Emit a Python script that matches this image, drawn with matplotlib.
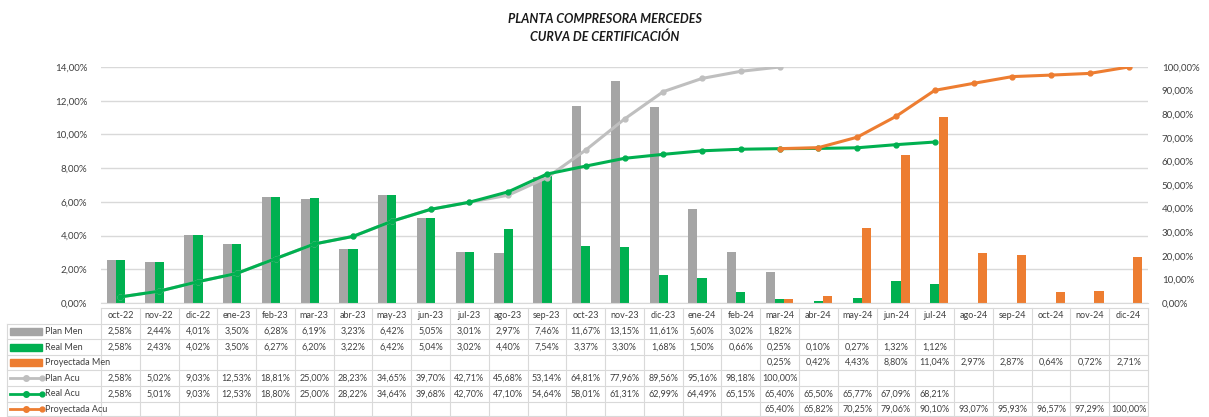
import numpy as np
import matplotlib.pyplot as plt
from matplotlib.lines import Line2D
from matplotlib.patches import Rectangle

plt.rcParams['font.family'] = ['Lato', 'DejaVu Sans']

# Datos de la curva de certificación (en %)
meses = ["oct-22", "nov-22", "dic-22", "ene-23", "feb-23", "mar-23", "abr-23",
         "may-23", "jun-23", "jul-23", "ago-23", "sep-23", "oct-23", "nov-23",
         "dic-23", "ene-24", "feb-24", "mar-24", "abr-24", "may-24", "jun-24",
         "jul-24", "ago-24", "sep-24", "oct-24", "nov-24", "dic-24"]

plan_men = [2.58, 2.44, 4.01, 3.50, 6.28, 6.19, 3.23, 6.42, 5.05, 3.01, 2.97,
            7.46, 11.67, 13.15, 11.61, 5.60, 3.02, 1.82]
real_men = [2.58, 2.43, 4.02, 3.50, 6.27, 6.20, 3.22, 6.42, 5.04, 3.02, 4.40,
            7.54, 3.37, 3.30, 1.68, 1.50, 0.66, 0.25, 0.10, 0.27, 1.32, 1.12]
proy_men = [0.25, 0.42, 4.43, 8.80, 11.04, 2.97, 2.87, 0.64, 0.72, 2.71]
proy_inicio = 17  # mar-24

plan_acu = [2.58, 5.02, 9.03, 12.53, 18.81, 25.00, 28.23, 34.65, 39.70, 42.71,
            45.68, 53.14, 64.81, 77.96, 89.56, 95.16, 98.18, 100.00]
real_acu = [2.58, 5.01, 9.03, 12.53, 18.80, 25.00, 28.22, 34.64, 39.68, 42.70,
            47.10, 54.64, 58.01, 61.31, 62.99, 64.49, 65.15, 65.40, 65.50, 65.77,
            67.09, 68.21]
proy_acu = [65.40, 65.82, 70.25, 79.06, 90.10, 93.07, 95.93, 96.57, 97.29, 100.00]

GRIS = "#A5A5A5"
GRIS_L = "#BFBFBF"
VERDE = "#00B050"
NARANJA = "#ED7D31"
TXT = "#404040"
REJILLA = "#D9D9D9"


def fmt(v):
    return f"{v:.2f}%".replace(".", ",")


fig = plt.figure(figsize=(12.09, 4.17), dpi=100)
ax = fig.add_axes([101 / 1209, 1 - 303 / 417, 1047 / 1209, 236 / 417])
ax2 = ax.twinx()

n = len(meses)
x = np.arange(n)
w = 0.235
xp = np.arange(proy_inicio, proy_inicio + len(proy_men))

ax.bar(x[:len(plan_men)] - w, plan_men, w, color=GRIS, zorder=2)
ax.bar(x[:len(real_men)], real_men, w, color=VERDE, zorder=2)
ax.bar(xp + w, proy_men, w, color=NARANJA, zorder=2)

ax2.plot(x[:len(plan_acu)], plan_acu, color=GRIS_L, lw=2.2, marker="o", ms=3.5, zorder=3)
ax2.plot(x[:len(real_acu)], real_acu, color=VERDE, lw=2.2, marker="o", ms=3.5, zorder=3)
ax2.plot(xp, proy_acu, color=NARANJA, lw=2.2, marker="o", ms=3.5, zorder=3)

ax.set_xlim(-0.5, n - 0.5)
ax.set_ylim(0, 14)
ax2.set_ylim(0, 100)
ax.set_yticks(np.arange(0, 15, 2))
ax2.set_yticks(np.arange(0, 101, 10))
ax.set_yticklabels([fmt(v) for v in np.arange(0, 15, 2)])
ax2.set_yticklabels([fmt(v) for v in np.arange(0, 101, 10)])
ax.set_xticks([])
ax.yaxis.grid(True, color=REJILLA, lw=1, zorder=0)
ax.set_axisbelow(True)
for a in (ax, ax2):
    for s in a.spines.values():
        s.set_visible(False)
    a.tick_params(axis="y", length=0, labelsize=7, labelcolor=TXT, pad=10)
ax.spines["bottom"].set_visible(True)
ax.spines["bottom"].set_color(REJILLA)

fig.text(0.5, 0.955, "PLANTA COMPRESORA MERCEDES", ha="center", va="center",
         fontsize=9, fontweight="bold", fontstyle="italic", color="#1a1a1a")
fig.text(0.5, 0.912, "CURVA DE CERTIFICACIÓN", ha="center", va="center",
         fontsize=9, fontweight="bold", fontstyle="italic", color="#1a1a1a")

# Tabla de datos bajo el gráfico (en píxeles de la figura)
W, H = 1209, 417
x0_px, xa_px, col_w = 7, 101, 1047 / n
top_px, row_h = 308, 15.6
filas = [
    ("Plan Men", plan_men, 0, "bar", GRIS),
    ("Real Men", real_men, 0, "bar", VERDE),
    ("Proyectada Men", proy_men, proy_inicio, "bar", NARANJA),
    ("Plan Acu", plan_acu, 0, "line", GRIS_L),
    ("Real Acu", real_acu, 0, "line", VERDE),
    ("Proyectada Acu", proy_acu, proy_inicio, "line", NARANJA),
]


def fx(px):
    return px / W


def fy(py):
    return 1 - py / H


lw_t = 0.8
# cabecera
fig.add_artist(Line2D([fx(xa_px), fx(xa_px + n * col_w)], [fy(top_px)] * 2,
                      color=REJILLA, lw=lw_t))
for j, m in enumerate(meses):
    fig.text(fx(xa_px + (j + 0.5) * col_w), fy(top_px + row_h / 2), m,
             ha="center", va="center", fontsize=6.5, color=TXT)
for i, (nombre, vals, ini, tipo, col) in enumerate(filas):
    yc = top_px + (i + 1.5) * row_h
    ytop = top_px + (i + 1) * row_h
    fig.add_artist(Line2D([fx(x0_px), fx(xa_px + n * col_w)], [fy(ytop)] * 2,
                          color=REJILLA, lw=lw_t))
    if tipo == "bar":
        fig.add_artist(Rectangle((fx(10), fy(yc + 3.5)), fx(32), 7 / H,
                                 color=col, transform=fig.transFigure))
    else:
        fig.add_artist(Line2D([fx(10), fx(42)], [fy(yc)] * 2, color=col, lw=2,
                              marker="o", ms=3.5, markevery=[1],
                              transform=fig.transFigure))
        fig.add_artist(Line2D([fx(26)], [fy(yc)], color=col, marker="o", ms=4,
                              transform=fig.transFigure))
    fig.text(fx(45), fy(yc), nombre, ha="left", va="center", fontsize=6.5, color=TXT)
    for k, v in enumerate(vals):
        j = ini + k
        fig.text(fx(xa_px + (j + 0.5) * col_w), fy(yc), fmt(v),
                 ha="center", va="center", fontsize=6.5, color=TXT)
fig.add_artist(Line2D([fx(x0_px), fx(xa_px + n * col_w)], [fy(H - 1)] * 2,
                      color=REJILLA, lw=lw_t))
for j in range(n + 1):
    fig.add_artist(Line2D([fx(xa_px + j * col_w)] * 2, [fy(top_px), fy(H)],
                          color=REJILLA, lw=lw_t))
fig.add_artist(Line2D([fx(x0_px)] * 2, [fy(top_px + row_h), fy(H)],
                      color=REJILLA, lw=lw_t))

fig.savefig("out.png", dpi=100)
